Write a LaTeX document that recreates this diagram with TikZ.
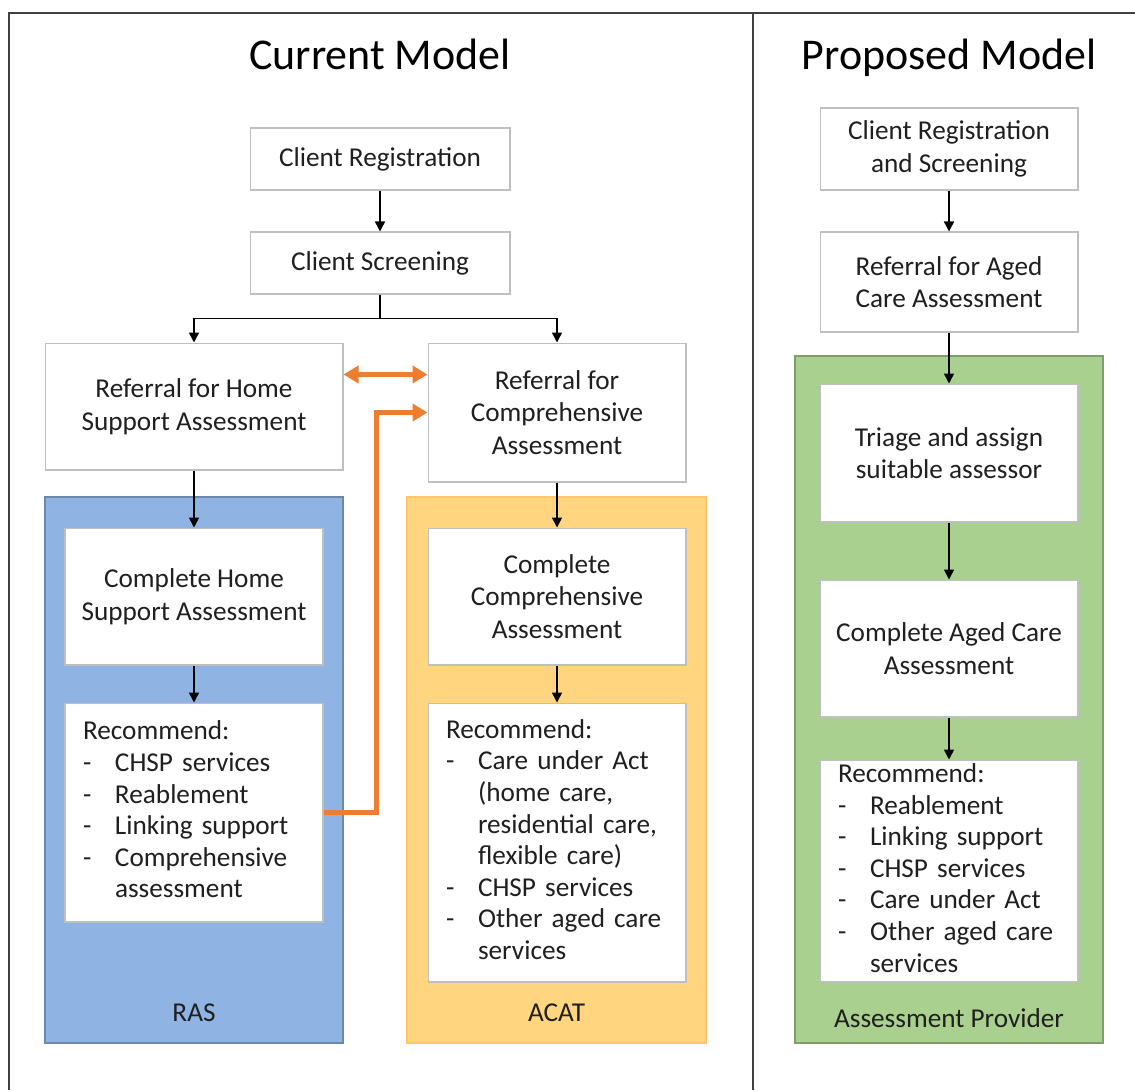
\documentclass[tikz,border=0pt]{standalone}
\usepackage{fontspec}
\setmainfont{Carlito}
\usepackage{tikz}
\usetikzlibrary{positioning, arrows.meta}
\usepackage{xcolor}

\definecolor{rasblue}{RGB}{143,180,227}
\definecolor{acatgold}{RGB}{255,214,127}
\definecolor{provgreen}{RGB}{169,208,142}
\definecolor{linkorange}{RGB}{237,125,49}
\definecolor{framegray}{RGB}{64,64,64}

\begin{document}
\begin{tikzpicture}[x=0.02cm, y=-0.02cm,
    every stage/.style={rectangle, draw=gray!50, fill=white, line width=0.6pt, align=center,
        font=\fontsize{15.5}{18.6}\selectfont, text=black!88},
    every panel/.style={rectangle, line width=0.8pt},
    recommend box/.style={every stage, align=left, inner xsep=0.36cm, inner ysep=0pt,
        font=\fontsize{15.5}{18}\selectfont},
    flow/.style={-{Triangle[length=0.2cm, width=0.2cm]}, line width=0.85pt, black},
    cross link/.style={linkorange, line width=2.8pt, -{Triangle[length=0.3cm, width=0.34cm]}},
    frame line/.style={framegray, line width=1.1pt},
    heading/.style={font=\fontsize{25}{30}\selectfont, anchor=base}]

    \useasboundingbox (0,0) rectangle (1135,1090);

    % Outer frame and divider
    \draw[frame line] (9,1090) -- (9,13) -- (1135,13);
    \draw[frame line] (753,13) -- (753,1090);

    % Titles
    \node[heading] (T-cur) at (380,69) {Current Model};
    \node[heading] (T-prop) at (949,69) {Proposed Model};

    % Coloured panels
    \node[every panel, fill=rasblue, draw=rasblue!75!black, minimum width=5.96cm, minimum height=10.92cm] (RAS) at (194,770) {};
    \node[every panel, fill=acatgold, draw=acatgold!80!orange, minimum width=5.98cm, minimum height=10.92cm] (ACAT) at (556.5,770) {};
    \node[every panel, fill=provgreen, draw=provgreen!75!black, minimum width=6.16cm, minimum height=13.74cm] (AP) at (949,699.5) {};

    \node[every stage, draw=none, fill=none] at ([yshift=0.62cm]RAS.south) {RAS};
    \node[every stage, draw=none, fill=none] at ([yshift=0.62cm]ACAT.south) {ACAT};
    \node[every stage, draw=none, fill=none] at ([yshift=0.52cm]AP.south) {Assessment Provider};

    % Current model - top steps
    \node[every stage, minimum width=5.2cm, minimum height=1.24cm] (C-reg) at (380,159) {Client Registration};
    \node[every stage, minimum width=5.2cm, minimum height=1.24cm] (C-scr) at (380,263) {Client Screening};
    \node[every stage, minimum width=5.96cm, minimum height=2.54cm] (HS-ref) at (194,406.5) {Referral for Home\\Support Assessment};
    \node[every stage, minimum width=5.16cm, minimum height=2.78cm] (CA-ref) at (557,412.5) {Referral for\\Comprehensive\\Assessment};

    % Current model - RAS steps
    \node[every stage, minimum width=5.16cm, minimum height=2.74cm] (HS-do) at (194,596.5) {Complete Home\\Support Assessment};
    \node[recommend box, text width=4.44cm, minimum height=4.38cm] (HS-rec) at (194,812.5) {%
        \begin{tabular}{@{}p{0.64cm}@{}l@{}}
        \multicolumn{2}{@{}l@{}}{Recommend:}\\
        - & CHSP services\\
        - & Reablement\\
        - & Linking support\\
        - & Comprehensive\\
          & assessment
        \end{tabular}};

    % Current model - ACAT steps
    \node[every stage, minimum width=5.16cm, minimum height=2.74cm] (CA-do) at (557,596.5) {Complete\\Comprehensive\\Assessment};
    \node[recommend box, text width=4.44cm, minimum height=5.58cm] (CA-rec) at (557,842.5) {%
        \begin{tabular}{@{}p{0.64cm}@{}l@{}}
        \multicolumn{2}{@{}l@{}}{Recommend:}\\
        - & Care under Act\\
          & (home care,\\
          & residential care,\\
          & flexible care)\\
        - & CHSP services\\
        - & Other aged care\\
          & services
        \end{tabular}};

    % Proposed model steps
    \node[every stage, minimum width=5.16cm, minimum height=1.64cm] (P-reg) at (949,149) {Client Registration\\and Screening};
    \node[every stage, minimum width=5.16cm, minimum height=2.0cm] (P-ref) at (949,282) {Referral for Aged\\Care Assessment};
    \node[every stage, minimum width=5.16cm, minimum height=2.76cm] (P-tri) at (949,453) {Triage and assign\\suitable assessor};
    \node[every stage, minimum width=5.16cm, minimum height=2.74cm] (P-do) at (949,648.5) {Complete Aged Care\\Assessment};
    \node[recommend box, text width=4.44cm, minimum height=4.44cm] (P-rec) at (949,871) {%
        \begin{tabular}{@{}p{0.64cm}@{}l@{}}
        \multicolumn{2}{@{}l@{}}{Recommend:}\\
        - & Reablement\\
        - & Linking support\\
        - & CHSP services\\
        - & Care under Act\\
        - & Other aged care\\
          & services
        \end{tabular}};

    % Straight flow arrows
    \foreach \a/\b in {C-reg/C-scr, HS-ref/HS-do, HS-do/HS-rec, CA-ref/CA-do, CA-do/CA-rec,
                       P-reg/P-ref, P-ref/P-tri, P-tri/P-do, P-do/P-rec}
        \draw[flow] (\a) -- (\b);

    % Screening splits into both referrals
    \draw[flow] (C-scr.south) -- ++(0,24) -| (HS-ref.north);
    \draw[flow] (C-scr.south) -- ++(0,24) -| (CA-ref.north);

    % Orange links between RAS and ACAT
    \draw[cross link, {Triangle[length=0.3cm, width=0.34cm]}-{Triangle[length=0.3cm, width=0.34cm]}]
        ([yshift=-0.64cm]HS-ref.north east) -- ([yshift=-0.64cm]CA-ref.north west);
    \draw[cross link, line join=miter] (HS-rec.east) -- ++(53,0) |- (CA-ref.west);

\end{tikzpicture}
\end{document}
